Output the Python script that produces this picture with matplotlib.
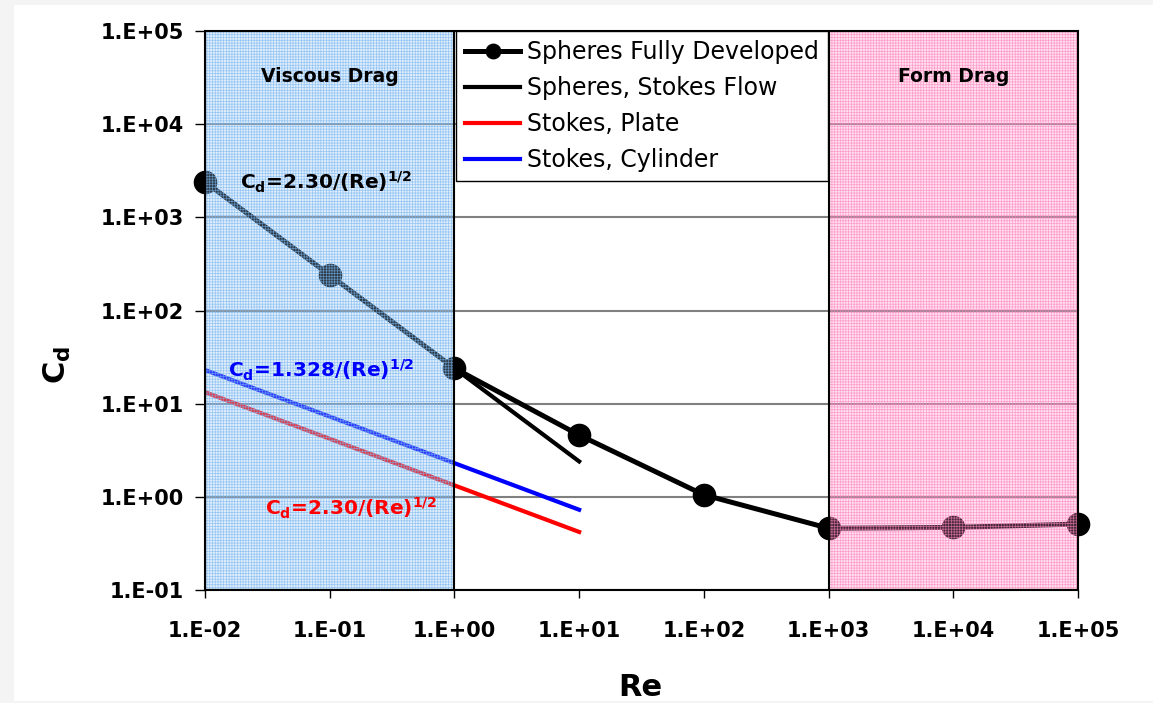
import matplotlib.pyplot as plt
from matplotlib.patches import Rectangle
import matplotlib.transforms as mtransforms

# data
re_full = [1e-2, 1e-1, 1e0, 1e1, 1e2, 1e3, 1e4, 1e5]
cd_full = [2400, 240, 24, 4.6, 1.05, 0.46, 0.47, 0.51]

re_stokes = [1e-2, 1e-1, 1e0, 1e1]
cd_sphere_stokes = [2400, 240, 24, 2.4]
cd_plate = [13.28, 4.2, 1.328, 0.42]
cd_cylinder = [23.0, 7.27, 2.30, 0.727]

x_ticks = [1e-2, 1e-1, 1e0, 1e1, 1e2, 1e3, 1e4, 1e5]
x_tick_labels = ['1.E-02', '1.E-01', '1.E+00', '1.E+01', '1.E+02', '1.E+03', '1.E+04', '1.E+05']
y_ticks = [1e-1, 1e0, 1e1, 1e2, 1e3, 1e4, 1e5]
y_tick_labels = ['1.E-01', '1.E+00', '1.E+01', '1.E+02', '1.E+03', '1.E+04', '1.E+05']

region_names = ['Viscous Drag', 'Form Drag']
region_bounds = [(1e-2, 1e0), (1e3, 1e5)]
region_centers = [1e-1, 1e4]

plt.rcParams['mathtext.fontset'] = 'dejavusans'
plt.rcParams['hatch.linewidth'] = 0.5

fig = plt.figure(figsize=(11.53, 7.03), dpi=100)
fig.patch.set_facecolor('#f4f4f4')
fig.patches.append(Rectangle((14 / 1153, 2 / 703), 1, 1 - 7 / 703, transform=fig.transFigure,
                             facecolor='white', edgecolor='none', zorder=-10))

ax = fig.add_axes([205 / 1153, 1 - 590 / 703, 873 / 1153, 559 / 703])
ax.set_facecolor('white')
ax.set_xscale('log')
ax.set_yscale('log')
ax.set_xlim(1e-2, 1e5)
ax.set_ylim(1e-1, 1e5)

# curves
ax.plot(re_full, cd_full, color='black', lw=3.6, marker='o', ms=16,
        label='Spheres Fully Developed', zorder=3, clip_on=False)
ax.plot(re_stokes, cd_sphere_stokes, color='black', lw=3.0,
        label='Spheres, Stokes Flow', zorder=2.5)
ax.plot(re_stokes, cd_plate, color='red', lw=3.0, label='Stokes, Plate', zorder=2.5)
ax.plot(re_stokes, cd_cylinder, color='blue', lw=3.0, label='Stokes, Cylinder', zorder=2.5)

# shaded regions drawn over the curves (semi-transparent, fine grid texture)
trans = mtransforms.blended_transform_factory(ax.transData, ax.transAxes)
fills = ['#96c8f5', '#ff96c8']
fill_alpha = [0.30, 0.28]
hatches = ['#78b4f0', '#ff80bc']
for (x0, x1), fc, fa, hc in zip(region_bounds, fills, fill_alpha, hatches):
    ax.add_patch(Rectangle((x0, 0), x1 - x0, 1, transform=trans, facecolor=fc,
                           edgecolor='none', alpha=fa, zorder=4))
    ax.add_patch(Rectangle((x0, 0), x1 - x0, 1, transform=trans, facecolor='none',
                           edgecolor=hc, hatch='++++++', lw=0, alpha=0.7, zorder=4.1))
    ax.add_patch(Rectangle((x0, 0), x1 - x0, 1, transform=trans, facecolor='none',
                           edgecolor='black', lw=1.5, zorder=4.2))

for name, xc in zip(region_names, region_centers):
    ax.text(xc, 0.919, name, transform=trans, ha='center', va='center',
            fontsize=13.5, fontweight='bold', zorder=6)

# formula labels
ax.text(0.040, 0.717, r'C$_\mathbf{d}$=2.30/(Re)$^\mathbf{1/2}$', transform=ax.transAxes,
        fontsize=14.5, fontweight='bold', color='black', zorder=6)
ax.text(0.026, 0.381, r'C$_\mathbf{d}$=1.328/(Re)$^\mathbf{1/2}$', transform=ax.transAxes,
        fontsize=14.5, fontweight='bold', color='blue', zorder=6)
ax.text(0.069, 0.134, r'C$_\mathbf{d}$=2.30/(Re)$^\mathbf{1/2}$', transform=ax.transAxes,
        fontsize=14.5, fontweight='bold', color='red', zorder=6)

# axes styling
ax.minorticks_off()
ax.set_xticks(x_ticks)
ax.set_xticklabels(x_tick_labels, fontsize=15, fontweight='bold')
ax.set_yticks(y_ticks)
ax.set_yticklabels(y_tick_labels, fontsize=15, fontweight='bold')
ax.tick_params(axis='x', direction='out', length=6, width=1, pad=16)
ax.tick_params(axis='y', direction='out', length=7, width=1, pad=8)
ax.yaxis.grid(True, color='#808080', lw=1.5, zorder=1)
ax.set_axisbelow(True)
for s in ax.spines.values():
    s.set_color('black')
    s.set_linewidth(1.5)
    s.set_zorder(5)

fig.text(640 / 1153, 1 - 688 / 703, 'Re', ha='center', va='center',
         fontsize=22, fontweight='bold')
fig.text(57 / 1153, 1 - 365 / 703, r'C$_\mathbf{d}$', ha='center', va='center',
         rotation=90, fontsize=22, fontweight='bold')

leg = ax.legend(loc='upper left', bbox_to_anchor=((456 - 205) / 873, 1.0), borderaxespad=0,
                fontsize=17, frameon=True, fancybox=False, framealpha=1, edgecolor='black',
                handlelength=2.3, handletextpad=0.3, labelspacing=0.5, markerscale=0.65,
                borderpad=0.4)
leg.get_frame().set_linewidth(1.0)
leg.set_zorder(10)

fig.savefig('out.png', dpi=100, facecolor=fig.get_facecolor())
